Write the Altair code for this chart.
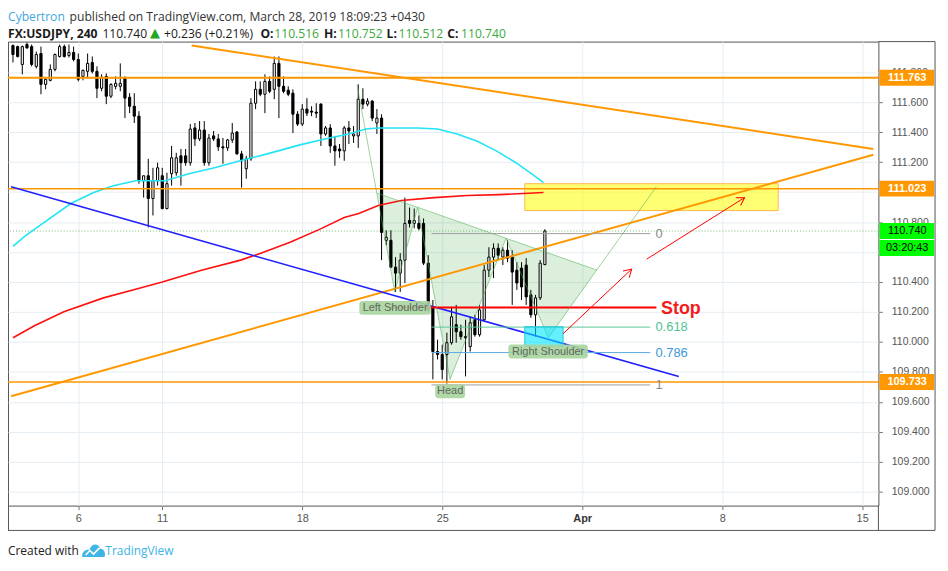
import altair as alt
import pandas as pd

# ---------------- data ----------------
# 4-hour USDJPY bars. Bar index: 6 bars per trading day, 0 = Mon 11 Mar 2019
bars = list(range(-32, 83))
opens = [111.978, 111.971, 111.852, 111.985, 111.971, 111.839, 111.925, 111.719, 111.746, 111.819,
         111.905, 111.971, 111.912, 111.932, 111.885, 111.772, 111.806, 111.865, 111.806, 111.693,
         111.772, 111.640, 111.706, 111.706, 111.759, 111.633, 111.573, 111.507, 111.076, 111.109,
         110.957, 111.076, 111.109, 110.890, 111.123, 111.129, 111.242, 111.242, 111.196, 111.428,
         111.355, 111.414, 111.196, 111.375, 111.355, 111.302, 111.295, 111.348, 111.401, 111.255,
         111.156, 111.222, 111.593, 111.686, 111.653, 111.739, 111.686, 111.859, 111.706, 111.680,
         111.660, 111.520, 111.454, 111.554, 111.540, 111.534, 111.587, 111.388, 111.428, 111.308,
         111.288, 111.275, 111.428, 111.375, 111.375, 111.620, 111.587, 111.607, 111.461, 111.494,
         110.678, 110.678, 110.499, 110.459, 110.546, 110.811, 110.791, 110.791, 110.791, 110.526,
         110.234, 109.936, 109.916, 109.916, 109.995, 110.115, 110.068, 110.035, 109.969, 110.148,
         110.048, 110.148, 110.479, 110.566, 110.625, 110.566, 110.612, 110.566, 110.479, 110.493,
         110.513, 110.314, 110.181, 110.294, 110.516]
highs = [111.985, 111.978, 111.978, 111.998, 111.985, 111.938, 111.971, 111.759, 111.852, 111.925,
         111.985, 111.985, 111.985, 111.971, 111.925, 111.819, 111.925, 111.905, 111.839, 111.786,
         111.792, 111.726, 111.772, 111.859, 111.772, 111.660, 111.660, 111.540, 111.109, 111.222,
         111.162, 111.196, 111.162, 111.129, 111.308, 111.262, 111.288, 111.288, 111.454, 111.461,
         111.474, 111.474, 111.388, 111.408, 111.388, 111.361, 111.355, 111.461, 111.408, 111.275,
         111.242, 111.627, 111.739, 111.739, 111.786, 111.772, 111.905, 111.905, 111.772, 111.706,
         111.686, 111.540, 111.587, 111.627, 111.573, 111.593, 111.593, 111.441, 111.454, 111.375,
         111.321, 111.441, 111.474, 111.441, 111.719, 111.693, 111.627, 111.615, 111.554, 111.520,
         110.745, 110.745, 110.566, 110.592, 110.963, 110.897, 110.890, 110.844, 110.824, 110.579,
         110.280, 110.015, 109.982, 110.062, 110.234, 110.247, 110.115, 110.148, 110.168, 110.181,
         110.247, 110.513, 110.632, 110.658, 110.658, 110.632, 110.678, 110.612, 110.532, 110.532,
         110.559, 110.347, 110.314, 110.546, 110.752]
lows = [111.865, 111.898, 111.786, 111.958, 111.839, 111.825, 111.653, 111.686, 111.739, 111.806,
        111.898, 111.898, 111.898, 111.872, 111.739, 111.746, 111.759, 111.792, 111.627, 111.673,
        111.587, 111.627, 111.686, 111.673, 111.494, 111.527, 111.461, 111.056, 110.963, 110.764,
        110.844, 111.043, 110.885, 110.885, 111.043, 111.109, 111.043, 111.176, 111.176, 111.308,
        111.341, 111.176, 111.176, 111.341, 111.275, 111.189, 111.275, 111.328, 111.250, 111.030,
        111.089, 111.209, 111.554, 111.640, 111.527, 111.660, 111.620, 111.494, 111.660, 111.640,
        111.394, 111.441, 111.441, 111.507, 111.507, 111.494, 111.308, 111.375, 111.262, 111.176,
        111.229, 111.209, 111.321, 111.328, 111.295, 111.554, 111.573, 111.474, 111.388, 110.546,
        110.645, 110.493, 110.334, 110.334, 110.393, 110.764, 110.758, 110.745, 110.513, 110.201,
        109.750, 109.883, 109.750, 109.722, 109.982, 109.995, 110.015, 109.770, 109.936, 110.035,
        110.035, 110.134, 110.433, 110.426, 110.546, 110.513, 110.532, 110.247, 110.347, 110.280,
        110.247, 110.161, 110.035, 110.280, 110.512]
closes = [111.918, 111.905, 111.971, 111.962, 111.852, 111.918, 111.719, 111.753, 111.819, 111.918,
          111.971, 111.905, 111.932, 111.885, 111.753, 111.812, 111.859, 111.806, 111.693, 111.766,
          111.640, 111.719, 111.726, 111.726, 111.627, 111.573, 111.507, 111.076, 111.109, 110.957,
          111.076, 111.162, 110.890, 111.056, 111.229, 111.229, 111.196, 111.196, 111.421, 111.355,
          111.414, 111.196, 111.361, 111.355, 111.302, 111.295, 111.348, 111.394, 111.255, 111.209,
          111.222, 111.593, 111.686, 111.653, 111.739, 111.673, 111.859, 111.706, 111.673, 111.653,
          111.520, 111.454, 111.554, 111.527, 111.534, 111.527, 111.388, 111.428, 111.308, 111.275,
          111.275, 111.428, 111.408, 111.388, 111.620, 111.587, 111.607, 111.494, 111.494, 110.731,
          110.698, 110.499, 110.459, 110.546, 110.791, 110.791, 110.811, 110.758, 110.526, 110.214,
          109.936, 109.916, 109.816, 109.995, 110.168, 110.068, 110.035, 110.028, 110.128, 110.048,
          110.214, 110.479, 110.566, 110.625, 110.579, 110.612, 110.559, 110.466, 110.393, 110.367,
          110.300, 110.181, 110.294, 110.526, 110.740]

date_ticks = [-18, 0, 30, 60, 90, 120, 150]
date_labels = ["6", "11", "18", "25", "Apr", "8", "15"]
price_ticks = [109.0, 109.2, 109.4, 109.6, 109.8, 110.0, 110.2, 110.4,
               110.6, 110.8, 111.0, 111.2, 111.4, 111.6, 111.8]

# moving averages (vertices)
ma_cyan_bar = [-32.0, -29.5, -25.3, -19.6, -14.7, -10.5, -5.7, 0.6, 5.7, 11.2, 18.3, 22.5,
               29.5, 35.8, 40.0, 43.6, 46.3, 54.7, 59.0, 63.2, 67.4, 71.6, 75.8, 80.0, 81.7]
ma_cyan = [110.638, 110.705, 110.798, 110.924, 110.997, 111.043, 111.076, 111.076, 111.123,
           111.162, 111.222, 111.255, 111.315, 111.361, 111.388, 111.421, 111.428, 111.428,
           111.421, 111.388, 111.341, 111.275, 111.196, 111.103, 111.063]
ma_red_bar = [-32.0, -27.4, -21.1, -12.6, -6.3, 0.0, 8.4, 16.8, 21.1, 27.4, 33.7, 39.0,
              42.1, 46.3, 51.2, 58.3, 65.3, 72.2, 81.7]
ma_red = [110.028, 110.108, 110.201, 110.294, 110.347, 110.400, 110.479, 110.546, 110.592,
          110.665, 110.751, 110.831, 110.857, 110.910, 110.944, 110.963, 110.977, 110.983, 110.997]

# horizontal levels and last price
level_prices = [111.763, 111.023, 109.733]
level_widths = [2.0, 1.5, 1.5]
last_price = 110.740
countdown = "03:20:43"

# trend lines (bar, price) end points
down_tl_bar, down_tl = [6.3, 152.4], [111.978, 111.288]
up_tl_bar, up_tl = [-32.4, 152.4], [109.637, 111.249]
blue_tl_bar, blue_tl = [-32.4, 110.7], [111.036, 109.770]

# inverse head & shoulders drawing
hs_bar = [41.75, 49.83, 54.74, 61.68, 73.68, 82.74, 105.89]
hs_price = [111.717, 110.334, 110.897, 109.750, 110.692, 110.028, 111.036]
neck_bar = [46.04, 49.83, 54.74, 61.68, 73.68, 82.74, 93.12]
neck_price = [110.993, 110.950, 110.897, 110.822, 110.692, 110.593, 110.480]
zig_price = [110.993, 110.334, 110.897, 109.750, 110.692, 110.028, 110.480]
hs_labels = ["Left Shoulder", "Head", "Right Shoulder"]
hs_label_bar = [49.9, 61.7, 82.7]
hs_label_price = [110.227, 109.670, 109.936]

# fibonacci retracement
fib_labels = ["0", "0.618", "0.786", "1"]
fib_prices = [110.723, 110.099, 109.929, 109.713]
fib_bar = [57.7, 104.6]

# stop
stop_price = 110.229
stop_bar = [48.8, 105.9]

# zones
target_bar, target_price = [77.7, 132.0], [110.877, 111.056]
entry_bar, entry_price = [77.7, 85.9], [109.969, 110.101]

# arrows (start bar, start price, end bar, end price)
arrows = [(85.9, 110.055, 100.6, 110.486), (103.8, 110.552, 124.8, 110.963)]
arrow_angles = [47, 58]

# ---------------- scales / axes ----------------
X_SCALE = alt.Scale(domain=[-32.0, 152.42], nice=False, zero=False)
Y_SCALE = alt.Scale(domain=[108.9077, 112.0045], nice=False, zero=False)
label_expr = " : ".join(f"datum.value == {b} ? '{l}'" for b, l in zip(date_ticks, date_labels)) + " : ''"
apr_tick = date_ticks[date_labels.index("Apr")]

X_AXIS = alt.Axis(values=date_ticks, labelExpr=label_expr, title=None, domain=False, grid=True,
                  gridColor="#e6edf2", tickSize=4, tickColor="#777", labelFont="Liberation Sans",
                  labelFontSize=11, labelPadding=3, labelOverlap=False, labelFlush=False,
                  labelColor={"condition": {"test": f"datum.value == {apr_tick}", "value": "#333"}, "value": "#555"},
                  labelFontWeight={"condition": {"test": f"datum.value == {apr_tick}", "value": "bold"}, "value": "normal"})
Y_AXIS = alt.Axis(orient="right", values=price_ticks, format=".3f", title=None, domain=False, grid=True,
                  gridColor="#e6edf2", tickSize=4, tickColor="#777", labelFont="Liberation Sans",
                  labelFontSize=10.5, labelColor="#555", labelPadding=9, labelOverlap=False, labelFlush=False)


def X(f):
    return alt.X(f, type="quantitative", scale=X_SCALE, axis=X_AXIS)


def Y(f):
    return alt.Y(f, type="quantitative", scale=Y_SCALE, axis=Y_AXIS)


def line(bx, py, color, width, opacity=1.0, dash=None):
    df = pd.DataFrame({"bar": bx, "price": py})
    kw = dict(color=color, strokeWidth=width, opacity=opacity, clip=True)
    if dash:
        kw["strokeDash"] = dash
    return alt.Chart(df).mark_line(**kw).encode(x=X("bar"), y=Y("price"))


dummy = pd.DataFrame({"k": [0]})


def ptext(text, x, y, color="#222", size=12.2, weight="normal", font="Open Sans", align="left"):
    return alt.Chart(dummy).mark_text(text=text, align=align, baseline="middle", font=font,
                                      fontSize=size, fontWeight=weight, color=color).encode(
        x=alt.value(x), y=alt.value(y))


def prule(x, y, x2=None, y2=None, color="#555"):
    enc = dict(x=alt.value(x), y=alt.value(y))
    if x2 is not None:
        enc["x2"] = alt.value(x2)
    if y2 is not None:
        enc["y2"] = alt.value(y2)
    return alt.Chart(dummy).mark_rule(color=color, strokeWidth=1).encode(**enc)


layers = []

# H&S fill
area_df = pd.DataFrame({"bar": neck_bar, "top": neck_price, "bottom": zig_price})
layers.append(alt.Chart(area_df).mark_area(color="#4caf50", opacity=0.2).encode(
    x=X("bar"), y=Y("top"), y2="bottom"))

# target zone
tz = pd.DataFrame({"b1": [target_bar[0]], "b2": [target_bar[1]], "p1": [target_price[0]], "p2": [target_price[1]]})
layers.append(alt.Chart(tz).mark_rect(fill="#ffff00", fillOpacity=0.55, stroke="#ffb74d", strokeWidth=1).encode(
    x=X("b1"), x2="b2", y=Y("p1"), y2="p2"))

# last price dotted line
layers.append(alt.Chart(pd.DataFrame({"p": [last_price]})).mark_rule(
    color="#4caf50", strokeWidth=1, strokeDash=[1, 2], opacity=0.8).encode(y=Y("p")))

# candles
cdf = pd.DataFrame({"bar": bars, "open": opens, "high": highs, "low": lows, "close": closes})
layers.append(alt.Chart(cdf).mark_rule(color="#000", strokeWidth=1).encode(x=X("bar"), y=Y("low"), y2="high"))
layers.append(alt.Chart(cdf).mark_bar(size=2.2, stroke="#000", strokeWidth=1).encode(
    x=X("bar"), y=Y("open"), y2="close",
    fill=alt.condition("datum.close >= datum.open", alt.value("#ffffff"), alt.value("#000000"))))

# moving averages
layers.append(line(ma_red_bar, ma_red, "#ff1010", 1.6))
layers.append(line(ma_cyan_bar, ma_cyan, "#22e4f5", 1.6))

# horizontal orange levels
for p, w in zip(level_prices, level_widths):
    layers.append(alt.Chart(pd.DataFrame({"p": [p]})).mark_rule(color="#ff9800", strokeWidth=w).encode(y=Y("p")))

# trend lines
layers.append(line(down_tl_bar, down_tl, "#ff9800", 2))
layers.append(line(up_tl_bar, up_tl, "#ff9800", 2))
layers.append(line(blue_tl_bar, blue_tl, "#1f1fff", 1.6))

# fibonacci lines + labels
fib_colors = ["#9e9e9e", "#5cc99a", "#5aa9e8", "#9e9e9e"]
fib_text_colors = ["#8a8a8a", "#4fc38f", "#3c98dc", "#8a8a8a"]
for p, c in zip(fib_prices, fib_colors):
    layers.append(line(fib_bar, [p, p], c, 1))
for lab, p, c in zip(fib_labels, fib_prices, fib_text_colors):
    layers.append(alt.Chart(pd.DataFrame({"b": [105.7], "p": [p]})).mark_text(
        text=lab, align="left", baseline="middle", font="Liberation Sans", fontSize=13, color=c).encode(
        x=X("b"), y=Y("p")))

# stop line + label
layers.append(line(stop_bar, [stop_price, stop_price], "#ff0000", 2))
layers.append(alt.Chart(pd.DataFrame({"b": [106.9], "p": [stop_price - 0.008]})).mark_text(
    text="Stop", align="left", baseline="middle", font="Liberation Sans", fontSize=18,
    fontWeight="bold", color="#f21c1c").encode(x=X("b"), y=Y("p")))

# H&S outline
layers.append(line(hs_bar, hs_price, "#4caf50", 1, opacity=0.55))
layers.append(line([neck_bar[0], neck_bar[-1]], [neck_price[0], neck_price[-1]], "#4caf50", 1, opacity=0.55))

# entry box
ez = pd.DataFrame({"b1": [entry_bar[0]], "b2": [entry_bar[1]], "p1": [entry_price[0]], "p2": [entry_price[1]]})
layers.append(alt.Chart(ez).mark_rect(fill="#00e5ff", fillOpacity=0.6, stroke="#26c6da", strokeWidth=1).encode(
    x=X("b1"), x2="b2", y=Y("p1"), y2="p2"))

# H&S labels
label_widths = [72, 30, 80]
for lab, b, p, w in zip(hs_labels, hs_label_bar, hs_label_price, label_widths):
    d = pd.DataFrame({"b": [b], "p": [p]})
    layers.append(alt.Chart(d).mark_rect(fill="#a8d59f", opacity=0.9, cornerRadius=3,
                                         xOffset=-w / 2, x2Offset=w / 2, yOffset=-7, y2Offset=7).encode(
        x=X("b"), x2="b", y=Y("p"), y2="p"))
    layers.append(alt.Chart(d).mark_text(text=lab, align="center", baseline="middle", font="Liberation Sans",
                                         fontSize=11, color="#5e665e").encode(x=X("b"), y=Y("p")))

# arrows
CHEVRON = "M-0.6,1L0,0L0.6,1"
for (b1, p1, b2, p2), ang in zip(arrows, arrow_angles):
    d = pd.DataFrame({"b1": [b1], "p1": [p1], "b2": [b2], "p2": [p2]})
    layers.append(alt.Chart(d).mark_rule(color="#ff0000", strokeWidth=1).encode(
        x=X("b1"), x2="b2", y=Y("p1"), y2="p2"))
    layers.append(alt.Chart(d).mark_point(shape=CHEVRON, size=230, filled=False, color="#ff0000",
                                          strokeWidth=1, opacity=1, angle=ang).encode(x=X("b2"), y=Y("p2")))

# price tags on the right axis
tags = pd.DataFrame({"p": level_prices})
layers.append(alt.Chart(tags).mark_rect(color="#ff9800", yOffset=-8, y2Offset=8).encode(
    x=alt.value(877), x2=alt.value(932), y=Y("p"), y2="p"))
layers.append(alt.Chart(tags).mark_text(align="center", baseline="middle", font="Liberation Sans",
                                        fontSize=11, fontWeight="bold", color="#ffffff").encode(
    x=alt.value(905), y=Y("p"), text=alt.Text("p:Q", format=".3f")))
lp = pd.DataFrame({"p": [last_price]})
layers.append(alt.Chart(lp).mark_rect(color="#00ff00", yOffset=-8, y2Offset=8).encode(
    x=alt.value(877), x2=alt.value(932), y=Y("p"), y2="p"))
layers.append(alt.Chart(lp).mark_rect(color="#00ff00", yOffset=9, y2Offset=25).encode(
    x=alt.value(877), x2=alt.value(932), y=Y("p"), y2="p"))
layers.append(alt.Chart(lp).mark_text(align="center", baseline="middle", font="Liberation Sans",
                                      fontSize=11, color="#000000").encode(
    x=alt.value(905), y=Y("p"), text=alt.Text("p:Q", format=".3f")))
layers.append(alt.Chart(lp).mark_text(text=countdown, align="center", baseline="middle", font="Liberation Sans",
                                      fontSize=11, color="#000000", dy=17).encode(x=alt.value(905), y=Y("p")))

# frame around axis areas
layers += [prule(933, 0, y2=492), prule(0, 492, x2=933), prule(876, 0, x2=933),
           prule(876, 467, y2=492), prule(0.5, 467, y2=492)]

# header
GREEN = "#3aa93a"
H1, H2 = -25, -8
layers += [
    ptext("Cybertron", 0, H1, color="#45a6e0"),
    ptext("published on TradingView.com, March 28, 2019 18:09:23 +0430", 62, H1, color="#333"),
    ptext("FX:USDJPY, 240", 0, H2, weight="bold", color="#1a1a1a"),
    ptext("110.740", 95, H2, color="#1a1a1a"),
    ptext("\u25B2", 143, H2 - 1, color="#22a822", size=13, font="DejaVu Sans"),
    ptext("+0.236 (+0.21%)", 157, H2, color="#1a1a1a"),
    ptext("O:", 254, H2, weight="bold", color="#1a1a1a"),
    ptext("110.516", 268, H2, color=GREEN),
    ptext("H:", 318, H2, weight="bold", color="#1a1a1a"),
    ptext("110.752", 332, H2, color=GREEN),
    ptext("L:", 381, H2, weight="bold", color="#1a1a1a"),
    ptext("110.512", 393, H2, color=GREEN),
    ptext("C:", 442, H2, weight="bold", color="#1a1a1a"),
    ptext("110.740", 456, H2, color=GREEN),
]

# footer
CLOUD = "M-1,0.6C-1.1,0.1 -0.6,-0.15 -0.35,-0.02C-0.25,-0.65 0.45,-0.7 0.62,-0.15C1,-0.15 1.12,0.3 1,0.6Z"
ZIG = "M-0.7,0.42L-0.32,0.02L0.0,0.34L0.55,-0.22"
layers += [
    ptext("Created with", 0, 513, color="#222", size=12),
    alt.Chart(dummy).mark_point(shape=CLOUD, size=500, filled=True, color="#41b6e6", opacity=1).encode(
        x=alt.value(86), y=alt.value(512)),
    alt.Chart(dummy).mark_point(shape=ZIG, size=500, filled=False, color="#ffffff", strokeWidth=1.6,
                                opacity=1).encode(x=alt.value(86), y=alt.value(512)),
    ptext("TradingView", 98, 513, color="#3bb3e4", size=12),
]

chart = alt.layer(*layers).properties(
    width=876, height=467,
    autosize=alt.AutoSizeParams(type="none"),
    padding={"left": 0, "top": 32, "right": 62, "bottom": 60},
    background="white",
).configure_view(stroke="#555", strokeWidth=1)

chart.save("out.html", embed_options={"renderer": "svg", "actions": False})
